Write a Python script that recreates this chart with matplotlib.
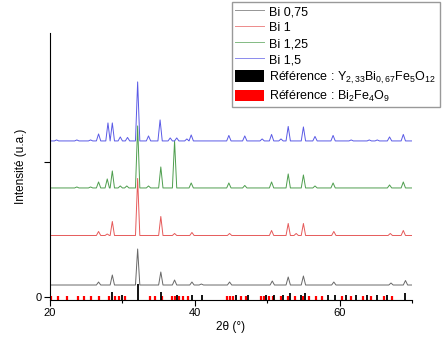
import matplotlib
matplotlib.use('Agg')
import matplotlib.pyplot as plt
from matplotlib.lines import Line2D
from matplotlib.patches import Patch

plt.rcParams['font.family'] = ['Liberation Sans', 'DejaVu Sans']

# diffractograms: peak positions (2theta) and heights (a.u.)
pos_075 = [26.7, 28.6, 32.1, 35.3, 37.2, 39.6, 40.9, 44.8, 50.7, 52.9, 55.0, 59.2, 67.1, 69.1]
h_075 = [3, 10, 36, 13, 5, 3, 1, 3, 4, 8, 9, 3, 2, 4.5]

pos_1 = [26.7, 27.9, 28.6, 32.1, 35.3, 37.2, 39.6, 44.8, 50.6, 52.9, 54.0, 55.0, 59.2, 67.0, 68.8]
h_1 = [4, 1.5, 14, 57, 19, 2, 3, 2, 5, 12, 2, 12, 4, 2, 5]

pos_125 = [23.7, 25.6, 26.7, 27.9, 28.6, 29.7, 30.6, 32.1, 33.6, 35.3, 37.2, 39.5, 44.7, 46.9,
           50.6, 52.9, 55.0, 56.6, 59.1, 66.9, 68.8]
h_125 = [1, 1, 6, 9, 17, 2, 2, 62, 2, 21, 47, 5, 5, 2.5, 6, 14, 13, 2, 5, 3, 6]

pos_15 = [20.9, 23.7, 25.6, 26.7, 28.0, 28.6, 29.7, 30.7, 32.1, 33.6, 35.2, 36.6, 37.5, 38.9,
          39.5, 44.7, 46.9, 49.3, 50.6, 51.9, 52.9, 55.0, 56.6, 59.1, 61.6, 64.1, 65.2, 66.9, 68.8]
h_15 = [1, 1, 1, 7, 18, 18, 4, 3.5, 59, 5, 21, 3, 3, 2, 6, 5.5, 5, 2, 6.5, 2, 14.5, 14, 4.5,
        5.5, 1, 1, 1, 4, 6.5]

# reference lines
ref_garnet_pos = [28.6, 30.0, 32.1, 35.3, 37.5, 39.6, 41.0, 45.7, 47.4, 49.9, 50.9, 52.2, 53.1,
                  54.6, 55.2, 58.4, 59.4, 60.9, 62.3, 63.8, 65.1, 66.6, 69.1]
ref_garnet_h = [5, 2, 13, 5, 2, 2, 2, 2, 2, 2, 2, 2, 4, 2, 4, 2, 2, 2, 2, 2, 2, 2, 4]

ref_bfo_pos = [20.1, 21.1, 22.3, 23.9, 24.7, 25.7, 26.8, 28.1, 29.0, 29.5, 30.3, 33.8, 34.5,
               35.4, 36.8, 37.3, 37.8, 38.3, 39.0, 44.4, 44.8, 45.3, 46.4, 47.1, 49.1, 49.6,
               50.3, 50.8, 51.9, 52.9, 53.8, 55.0, 55.8, 56.7, 57.5, 60.4, 61.6, 63.3, 64.4,
               66.2, 67.3]
ref_bfo_h = [1.5] * len(ref_bfo_pos)

labels = ['Bi 0,75', 'Bi 1', 'Bi 1,25', 'Bi 1,5']
offsets = [12, 61.5, 109, 156]
colors = ['#686868', '#e65a5a', '#4e9e4e', '#5a5ae6']
series = [(pos_075, h_075), (pos_1, h_1), (pos_125, h_125), (pos_15, h_15)]


def profile(pos, h, base, w=0.3):
    # polyline through the read peak apexes
    xs = [20.0]
    ys = [base]
    for p, v in zip(pos, h):
        xs += [p - w, p, p + w]
        ys += [base, base + v, base]
    xs.append(70.0)
    ys.append(base)
    return xs, ys


fig = plt.figure(figsize=(4.43, 3.39), dpi=100)
ax = fig.add_axes([0.113, 0.115, 0.817, 0.788])

for (pos, h), base, c in zip(series, offsets, colors):
    xs, ys = profile(pos, h, base)
    ax.plot(xs, ys, color=c, lw=0.7)

ax.vlines(ref_bfo_pos, -3, ref_bfo_h, color='#ff0000', lw=1.6)
ax.vlines(ref_garnet_pos, -3, ref_garnet_h, color='black', lw=1.3)

ax.set_xlim(20, 70)
ax.set_ylim(-3, 264)
ax.set_xticks([20, 40, 60])
ax.set_xticks([30, 50, 70], minor=True)
ax.set_yticks([0, 135])
ax.set_yticklabels(['0', ''])
ax.tick_params(direction='out', length=4, width=0.8, labelsize=8, pad=2)
ax.tick_params(which='minor', direction='out', length=2.5, width=0.8)
ax.spines['top'].set_visible(False)
ax.spines['right'].set_visible(False)
ax.set_xlabel('2θ (°)', fontsize=8.5, labelpad=2)
ax.set_ylabel('Intensité (u.a.)', fontsize=8.5, labelpad=6)

handles = [Line2D([], [], color=c, lw=0.7, alpha=0.7) for c in colors]
handles += [Patch(facecolor='black'), Patch(facecolor='#ff0000')]
leg_labels = labels + [r'Référence : Y$\mathregular{_{2,33}}$Bi$\mathregular{_{0,67}}$Fe$\mathregular{_5}$O$\mathregular{_{12}}$',
                       r'Référence : Bi$\mathregular{_2}$Fe$\mathregular{_4}$O$\mathregular{_9}$']
fig.legend(handles, leg_labels, loc='upper left', bbox_to_anchor=(0.523, 0.995),
           fontsize=9, frameon=True, fancybox=False, edgecolor='#808080',
           handlelength=2.3, handleheight=1.0, labelspacing=0.25, borderpad=0.3,
           handletextpad=0.4, borderaxespad=0)

fig.savefig('out.png', dpi=100)
